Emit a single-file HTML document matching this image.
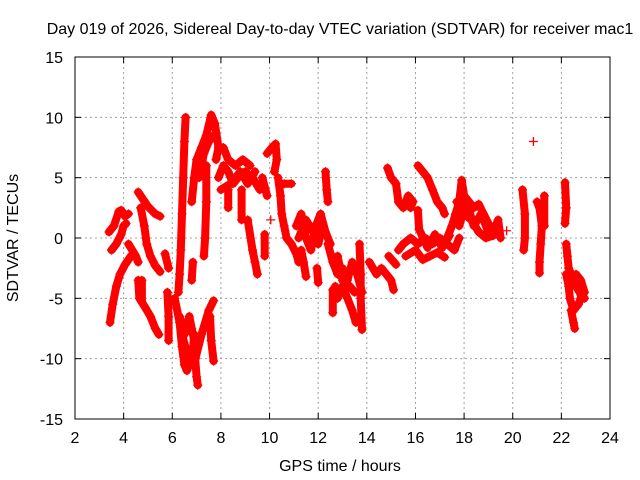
<!DOCTYPE html>
<html><head><meta charset="utf-8">
<style>
html,body{margin:0;padding:0;background:#fff;}
svg{display:block;font-family:"Liberation Sans",sans-serif;}
</style></head>
<body>
<svg id="chart" width="640" height="480" viewBox="0 0 640 480" xmlns="http://www.w3.org/2000/svg">
<rect x="0" y="0" width="640" height="480" fill="#fff"/>
<g id="grid"></g>
<g id="marks"></g>
<rect x="75" y="57" width="535" height="362" fill="none" stroke="#000" stroke-width="1"/>
<g id="ticks"></g>
<text x="340" y="34" font-size="16" text-anchor="middle">Day 019 of 2026, Sidereal Day-to-day VTEC variation (SDTVAR) for receiver mac1</text>
<text x="340" y="471" font-size="16" text-anchor="middle">GPS time / hours</text>
<text x="0" y="0" font-size="16" text-anchor="middle" transform="translate(18,238) rotate(-90)">SDTVAR / TECUs</text>
</svg>
<script>
const xTicks = [2,4,6,8,10,12,14,16,18,20,22,24];
const yTicks = [-15,-10,-5,0,5,10,15];
const traces = [
 [[3.44,-7],[3.55,-5.5],[3.7,-4],[3.85,-3],[4.06,-2.2],[4.3,-1.5]],
 [[3.4,0.5],[3.6,1],[3.8,2.2],[3.9,2.3],[4.05,1.8],[4.2,2]],
 [[3.5,-1],[3.7,-0.5],[3.9,0.3],[4.0,1.0],[4.1,1.2]],
 [[4.2,-0.5],[4.5,-1.5],[4.6,-2.0]],
 [[4.6,3.8],[4.8,3.2],[5.0,2.6],[5.3,2.0],[5.5,1.8]],
 [[4.7,2.5],[4.85,1],[4.95,-0.5],[5.1,-1.5],[5.3,-2.3],[5.5,-2.8]],
 [[4.6,-3.5],[4.65,-5],[4.9,-5.8],[5.1,-6.5],[5.3,-7.5],[5.45,-8]],
 [[4.75,-3.5],[4.75,-5.3]],
 [[5.7,-1.3],[5.85,-2.5]],
 [[5.8,-4.5],[5.85,-6.5],[5.85,-8.5]],
 [[6.55,10],[6.5,8],[6.45,5],[6.4,2],[6.35,-1],[6.3,-3],[6.25,-4.5]],
 [[6.8,-3.5],[6.85,-2]],
 [[6.1,-5],[6.3,-7],[6.4,-9],[6.5,-10.5],[6.6,-11],[6.75,-10],[6.9,-9],[7.0,-11.5],[7.05,-12.2]],
 [[6.3,-6.5],[6.5,-8],[6.7,-6.5],[6.8,-7.5],[6.95,-9]],
 [[6.4,-8],[6.6,-9.5],[6.8,-10.5],[6.9,-8]],
 [[6.95,-10],[7.2,-8],[7.5,-6],[7.7,-5.2]],
 [[7.55,-6.5],[7.6,-8.5],[7.7,-10.2]],
 [[6.8,3],[6.9,5],[7.0,6.5],[7.2,7.5],[7.4,8.5],[7.6,10.2],[7.75,9.5],[7.9,7.5],[7.8,6.5]],
 [[7.1,5],[7.3,7],[7.5,8],[7.7,8.5]],
 [[7.4,6],[7.4,3],[7.35,0],[7.3,-1.5]],
 [[7.9,5],[8.1,6],[8.3,5.5],[8.5,4.5],[8.7,5],[9.0,5.5],[9.3,5],[9.6,4]],
 [[8.1,7.5],[8.3,6.5],[8.6,6],[8.9,6.5],[9.2,6]],
 [[8.0,4],[8.4,4.5],[8.8,5.5],[9.1,4.5],[9.4,5.5]],
 [[8.3,4],[8.3,2.5]],
 [[8.85,4],[8.85,1.5]],
 [[9.1,1.5],[9.3,-1],[9.4,-2],[9.5,-3]],
 [[9.8,0.3],[9.8,-1.5]],
 [[9.9,7],[10.1,7.5],[10.25,7.8],[10.3,6.5],[10.2,5.5]],
 [[9.7,5],[9.9,3.5]],
 [[10.35,5],[10.45,3.5],[10.5,2],[10.6,1],[10.7,0],[10.9,-0.5],[11.1,-1.3],[11.2,-2]],
 [[10.6,4.5],[10.9,4.5]],
 [[10.05,1.5]],
 [[11.1,1],[11.3,2],[11.5,0],[11.7,-1],[11.9,1],[12.1,2],[12.3,0.5],[12.5,-0.5]],
 [[11.2,0],[11.5,1.5],[11.8,0.5],[12.0,-0.5],[12.2,1]],
 [[11.3,-1],[11.4,-2],[11.5,-3.2]],
 [[11.95,-2.5],[12,-3.7]],
 [[12.3,5.5],[12.35,4],[12.4,3]],
 [[12.4,-0.5],[12.6,-2],[12.8,-3],[13.0,-2.5],[13.2,-3.5],[13.4,-2],[13.6,-3],[13.8,-4.5]],
 [[12.7,-4],[12.8,-5],[13.0,-4],[13.2,-5],[13.4,-6],[13.55,-7],[13.65,-6.5]],
 [[12.8,-1.5],[13.0,-3.5],[13.3,-4],[13.5,-4.5]],
 [[13.7,-0.5],[13.75,-3],[13.75,-5],[13.8,-7.6]],
 [[12.6,-4.3],[12.6,-6.2]],
 [[14.1,-2],[14.4,-3],[14.6,-2.5],[15.0,-3.5],[15.1,-4.3]],
 [[14.9,-1.5],[15.2,-2.2]],
 [[15.3,-1],[15.5,-0.5],[15.8,0],[16.1,-0.5],[16.4,0],[16.7,-0.5],[17.0,0],[17.3,-0.5],[17.6,-1],[17.8,0]],
 [[15.6,-1.5],[16.0,-1],[16.3,-1.8],[16.6,-1.5],[16.9,-1.2],[17.2,-1.6]],
 [[16.2,0.5],[16.5,-0.8],[16.8,0.3],[17.1,-0.8],[17.4,0.2]],
 [[14.85,5.8],[15.0,5],[15.2,4.5],[15.3,3],[15.5,2.5],[15.7,3.5],[15.9,3],[15.8,2.5]],
 [[16.1,6],[16.3,5.5],[16.5,5],[16.7,4],[16.9,3],[17.1,2.5],[17.2,2]],
 [[16.1,2.3],[16.15,0.7]],
 [[17.3,0],[17.5,1],[17.65,2],[17.8,3],[17.9,4.8],[18.0,3.5],[18.2,3],[18.4,2.5],[18.6,2.8],[18.8,2],[19.0,1.2],[19.2,0.5],[19.4,1.5],[19.5,0]],
 [[17.7,3],[18.0,2],[18.3,1.5],[18.6,0.5],[18.9,0],[19.2,0.2]],
 [[17.8,1],[18.1,3],[18.4,1],[18.7,2],[19.0,0.5],[19.3,1]],
 [[19.75,0.6]],
 [[20.4,4],[20.5,2],[20.5,0],[20.45,-1.0]],
 [[20.85,8.0]],
 [[21.0,3],[21.1,2.5],[21.2,1],[21.15,-0.5],[21.1,-2],[21.1,-2.9]],
 [[21.3,3.5],[21.3,1]],
 [[22.15,4.6],[22.2,2.5],[22.15,1.2]],
 [[22.2,-0.5],[22.25,-1.5],[22.3,-2.5],[22.4,-3],[22.5,-3.5],[22.6,-4],[22.75,-4.5],[22.85,-5]],
 [[22.2,-3],[22.3,-4],[22.35,-5],[22.5,-6],[22.7,-5.5],[22.8,-5],[22.95,-5]],
 [[22.4,-6],[22.5,-7],[22.55,-7.5]],
 [[22.6,-3],[22.8,-3.5],[22.95,-4.5]]
];
const NS='http://www.w3.org/2000/svg';
const X0=75,X1=610,Y0=419,Y1=57;
function sx(h){return X0+(h-2)*(X1-X0)/22;}
function sy(v){return Y0-(v+15)*(Y0-Y1)/30;}
const grid=document.getElementById('grid'), ticks=document.getElementById('ticks'), marks=document.getElementById('marks');
function mk(tag,attrs,parent){const e=document.createElementNS(NS,tag);for(const k in attrs)e.setAttribute(k,attrs[k]);parent.appendChild(e);return e;}
xTicks.forEach(t=>{
 const x=sx(t);
 if(t>2&&t<24){const g=mk('line',{x1:x,y1:Y1,x2:x,y2:Y0,stroke:'#a0a0a0','stroke-dasharray':'2,3'},grid);
 
 }
 const a=mk('line',{x1:x,y1:Y0,x2:x,y2:Y0-6,stroke:'#000'},ticks);
 
 
 const b=mk('line',{x1:x,y1:Y1,x2:x,y2:Y1+6,stroke:'#000'},ticks);
 
 
 const l=mk('text',{x:x,y:443,'font-size':16,'text-anchor':'middle'},ticks);
 l.textContent=t;
 
 
});
yTicks.forEach(t=>{
 const y=sy(t);
 if(t>-15&&t<15){const g=mk('line',{x1:X0,y1:y,x2:X1,y2:y,stroke:'#a0a0a0','stroke-dasharray':'2,3'},grid);
 
 }
 const a=mk('line',{x1:X0,y1:y,x2:X0+6,y2:y,stroke:'#000'},ticks);
 
 
 const b=mk('line',{x1:X1,y1:y,x2:X1-6,y2:y,stroke:'#000'},ticks);
 
 
 const l=mk('text',{x:63,y:y+6,'font-size':16,'text-anchor':'end'},ticks);
 l.textContent=t;
 
 
});
traces.forEach(tr=>{
 const pts=tr.map(p=>sx(p[0]).toFixed(1)+','+sy(p[1]).toFixed(1)).join(' ');
 if(tr.length>1){const pl=mk('polyline',{points:pts,fill:'none',stroke:'#ff0000','stroke-width':8,'stroke-linejoin':'round','stroke-linecap':'round'},marks);
 
 }
 tr.forEach(p=>{
  const x=sx(p[0]),y=sy(p[1]);
  const m=mk('path',{d:`M${x-4.5},${y}H${x+4.5}M${x},${y-4.5}V${y+4.5}`,stroke:'#ff0000','stroke-width':1.3,fill:'none'},marks);
  
  
 });
});
</script>
</body></html>
